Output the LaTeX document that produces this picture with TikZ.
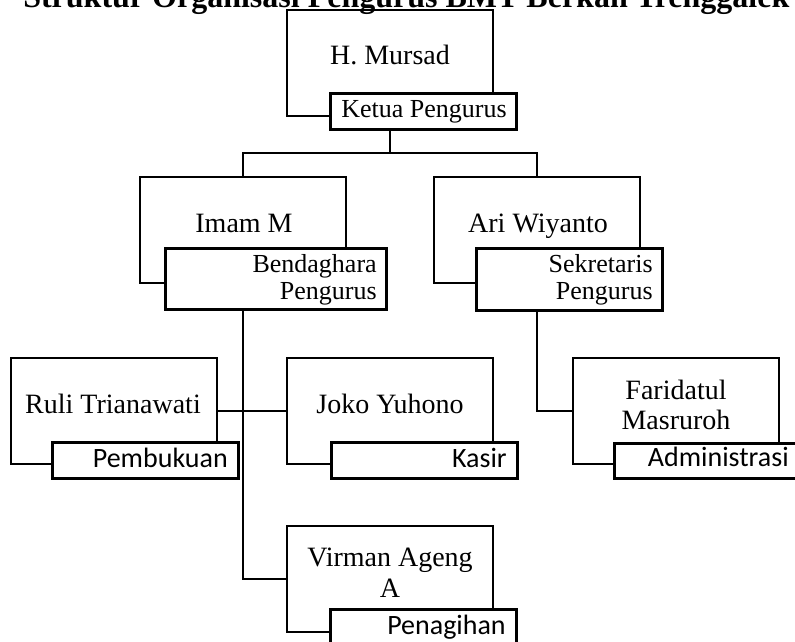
\documentclass[tikz,border=0pt]{standalone}
\usepackage{fontspec}
\setmainfont{Liberation Serif}
\newfontfamily\calib{Carlito}
\begin{document}
\begin{tikzpicture}[x=1pt,y=-1pt,
  line width=2.6pt,
  bigbox/.style={draw, minimum width=206pt, minimum height=106pt, inner sep=0pt},
  subbox/.style={draw, fill=white, anchor=north west, inner sep=0pt},
  nm/.style={inner sep=0pt, anchor=base, font=\fontsize{28}{30}\selectfont},
  sl/.style={inner sep=0pt, anchor=base east, font=\fontsize{26}{28}\selectfont},
  cl/.style={inner sep=0pt, anchor=base east, font=\calib\fontsize{28}{30}\selectfont}]
\useasboundingbox (0,0) rectangle (795,642);
\clip (0,0) rectangle (795,642);
% title
\node[inner sep=0pt, anchor=base west, font=\bfseries\fontsize{32}{36}\selectfont] (title) at (22,8) {Struktur Organisasi Pengurus BMT Berkah Trenggalek};
% big boxes
\node[bigbox] (m) at (390,63) {};
\node[bigbox] (imam) at (243,230) {};
\node[bigbox] (ari) at (537,230) {};
\node[bigbox] (ruli) at (114,411) {};
\node[bigbox] (joko) at (390,411) {};
\node[bigbox] (farid) at (676,411) {};
\node[bigbox] (virman) at (390,579) {};
% sub boxes
\node[subbox, minimum width=186pt, minimum height=36pt] (k) at (329,92) {};
\node[subbox, minimum width=221pt, minimum height=61pt] (bend) at (164,247) {};
\node[subbox, minimum width=186pt, minimum height=62pt] (sek) at (475,247) {};
\node[subbox, minimum width=186pt, minimum height=36pt] (pemb) at (51,441) {};
\node[subbox, minimum width=186pt, minimum height=36pt] (kasir) at (330,441) {};
\node[subbox, minimum width=186pt, minimum height=35pt] (adm) at (613,442) {};
\node[subbox, minimum width=186pt, minimum height=40pt] (pen) at (329,608) {};
% connectors
\coordinate (bus) at (390,153);
\draw (m.south |- k.south) -- (bus);
\draw (imam.north) |- (bus) -| (ari.north);
\draw (imam.south |- bend.south) |- (virman.west);
\draw (ruli.east) -- (joko.west);
\draw (ari.south |- sek.south) |- (farid.west);
% names
\node[nm] (tm) at (390,65) {H. Mursad};
\node[nm] (ti) at (244,232) {Imam M};
\node[nm] (ta) at (538,232) {Ari Wiyanto};
\node[nm] (tr) at (113,413) {Ruli Trianawati};
\node[nm] (tj) at (390,413) {Joko Yuhono};
\node[nm] (tf1) at (676,399) {Faridatul};
\node[nm] (tf2) at (676,429) {Masruroh};
\node[nm] (tv1) at (390,566) {Virman Ageng};
\node[nm] (tv2) at (390,597) {A};
% sub labels
\node[sl] (tk) at (508,117) {Ketua Pengurus};
\node[sl] (tb1) at (378,272) {Bendaghara};
\node[sl] (tb2) at (378,299) {Pengurus};
\node[sl] (ts1) at (654,272) {Sekretaris};
\node[sl] (ts2) at (654,299) {Pengurus};
\node[cl] (tp) at (229,467) {Pembukuan};
\node[cl] (tka) at (508,467) {Kasir};
\node[cl] (tad) at (790,466) {Administrasi};
\node[cl] (tpe) at (507,634) {Penagihan};
\end{tikzpicture}
\end{document}
